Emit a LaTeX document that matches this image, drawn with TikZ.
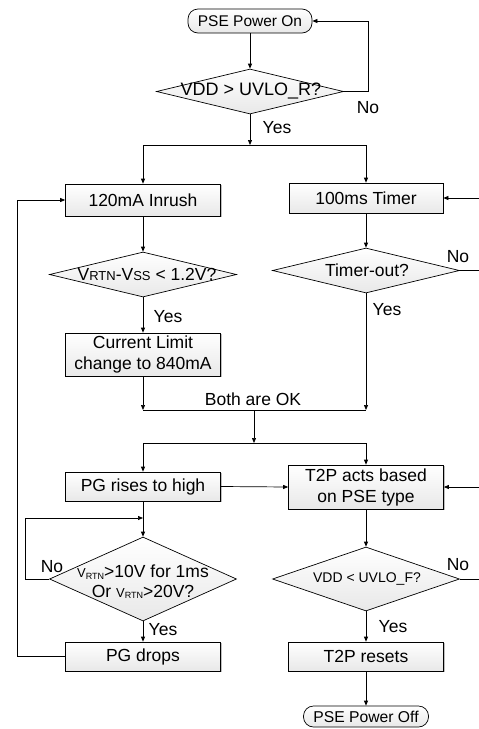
\documentclass[tikz,border=0pt]{standalone}
\usepackage{fontspec}
\setmainfont{Liberation Sans}
\usetikzlibrary{shapes.geometric,arrows.meta,shadows}
\newcommand{\sm}[1]{{\fontsize{13}{13}\selectfont #1}}
\newcommand{\tn}[1]{{\fontsize{9}{9}\selectfont #1}}
\begin{document}
\begin{tikzpicture}[x=1pt,y=-1pt, line width=0.7pt,
  arr/.style={-{Triangle[length=5pt,width=4pt]}},
  shade/.style={top color=white, bottom color=black!9},
  box/.style={draw, rectangle, shade, minimum width=155pt, inner sep=0pt, align=center,
    font=\fontsize{17.5}{21}\selectfont,
    drop shadow={shadow xshift=1.2pt, shadow yshift=-1.2pt, opacity=0.25, fill=black}},
  term/.style={draw, rectangle, rounded corners=10pt, shade, inner sep=0pt,
    font=\fontsize{15.5}{18}\selectfont},
  dia/.style={draw, diamond, shade, inner sep=0pt, minimum width=187pt},
  dtext/.style={font=\fontsize{17.5}{20}\selectfont, inner sep=0pt, align=center},
  lab/.style={font=\fontsize{17.5}{20}\selectfont, inner sep=0pt}
]
\useasboundingbox (0,0) rectangle (479,729);

% nodes
\node[term, minimum width=124pt, minimum height=24pt] (on) at (250,21) {PSE Power On};
\node[dia, minimum height=45pt] (d1) at (250,91.5) {};
\node[dtext, font=\fontsize{18}{20}\selectfont] (t1) at (251,91) {VDD > UVLO\_R?};

\node[box, minimum height=32pt] (inrush) at (143,200) {120mA Inrush};
\node[box, minimum height=30pt, minimum width=154pt] (timer) at (366,198) {100ms Timer};

\node[dia, minimum height=45pt] (d2) at (143,274.5) {};
\node[dtext] (t2) at (147,274) {V\sm{RTN}-V\sm{SS} < 1.2V?};
\node[dia, minimum height=45pt] (d3) at (366,270.5) {};
\node[dtext] (t3) at (367,270) {Timer-out?};

\node[box, minimum height=43pt] (cur) at (143,354.5) {Current Limit\\change to 840mA};

\node[box, minimum height=29pt] (pg) at (143,486.5) {PG rises to high};
\node[box, minimum height=44pt] (t2p) at (366,487) {T2P acts based\\on PSE type};

\node[dia, minimum height=84pt] (d4) at (143,579) {};
\node[dtext, font=\fontsize{17.5}{19.5}\selectfont] (t4) at (143,582) {\sm{V}\raisebox{-1.5pt}{\tn{RTN}}>10V for 1ms\\Or \sm{V}\raisebox{-1.5pt}{\tn{RTN}}>20V?};
\node[dia, minimum height=64pt] (d5) at (366,579) {};
\node[dtext, font=\fontsize{14}{16}\selectfont] (t5) at (367,579) {VDD < UVLO\_F?};

\node[box, minimum height=29pt] (pgd) at (143,656.5) {PG drops};
\node[box, minimum height=29pt] (rst) at (366,656.5) {T2P resets};
\node[term, minimum width=125pt, minimum height=21pt, font=\fontsize{15.7}{18}\selectfont] (off) at (366,716.5) {PSE Power Off};

% helper coordinates
\coordinate (c1) at (368,21);
\coordinate (j1) at (250,145);
\coordinate (r1) at (482,270.5);
\coordinate (r2) at (482,198);
\coordinate (m1) at (143,410);
\coordinate (m2) at (366,410);
\coordinate (j2) at (254,410);
\coordinate (j3) at (254,443);
\coordinate (r3) at (482,579);
\coordinate (r4) at (482,487);
\coordinate (l1) at (25,579);
\coordinate (l2) at (25,518);
\coordinate (l3) at (143,518);
\coordinate (f1) at (17,656.5);
\coordinate (f2) at (17,200);

% connectors
\draw[arr] (on) -- (d1);
\draw[arr] (d1.east) -| (c1) -- (on.east);
\draw[arr] (d1.south) -- (j1);
\draw[arr] (j1) -| (inrush.north);
\draw[arr] (j1) -| (timer.north);
\draw[arr] (inrush) -- (d2);
\draw[arr] (timer) -- (d3);
\draw[arr] (d3.east) -- (r1) -- (r2) -- (timer.east);
\draw[arr] (d2.south) -- (cur.north);
\draw[arr] (cur.south) -- (m1);
\draw[arr] (d3.south) -- (m2);
\draw (m1) -- (m2);
\draw[arr] (j2) -- (j3);
\draw[arr] (j3) -| (pg.north);
\draw[arr] (j3) -| (t2p.north);
\draw[arr] (pg.east) -- (t2p.west);
\draw[arr] (d5.east) -- (r3) -- (r4) -- (t2p.east);
\draw[arr] (pg.south) -- (d4.north);
\draw[arr] (d4.west) -- (l1) -- (l2) -- (l3);
\draw[arr] (d4.south) -- (pgd.north);
\draw[arr] (pgd.west) -- (f1) -- (f2) -- (inrush.west);
\draw[arr] (t2p.south) -- (d5.north);
\draw[arr] (d5.south) -- (rst.north);
\draw[arr] (rst.south) -- (off.north);

% labels
\node[lab] (n1) at (368,108) {No};
\node[lab] (y1) at (277,128) {Yes};
\node[lab] (n2) at (458,257) {No};
\node[lab] (y2) at (168,317) {Yes};
\node[lab] (y3) at (387,310) {Yes};
\node[lab] (ok) at (253,399) {Both are OK};
\node[lab] (n3) at (52,567) {No};
\node[lab] (y4) at (163,630) {Yes};
\node[lab] (n4) at (458,565) {No};
\node[lab] (y5) at (393,627) {Yes};
\end{tikzpicture}
\end{document}
